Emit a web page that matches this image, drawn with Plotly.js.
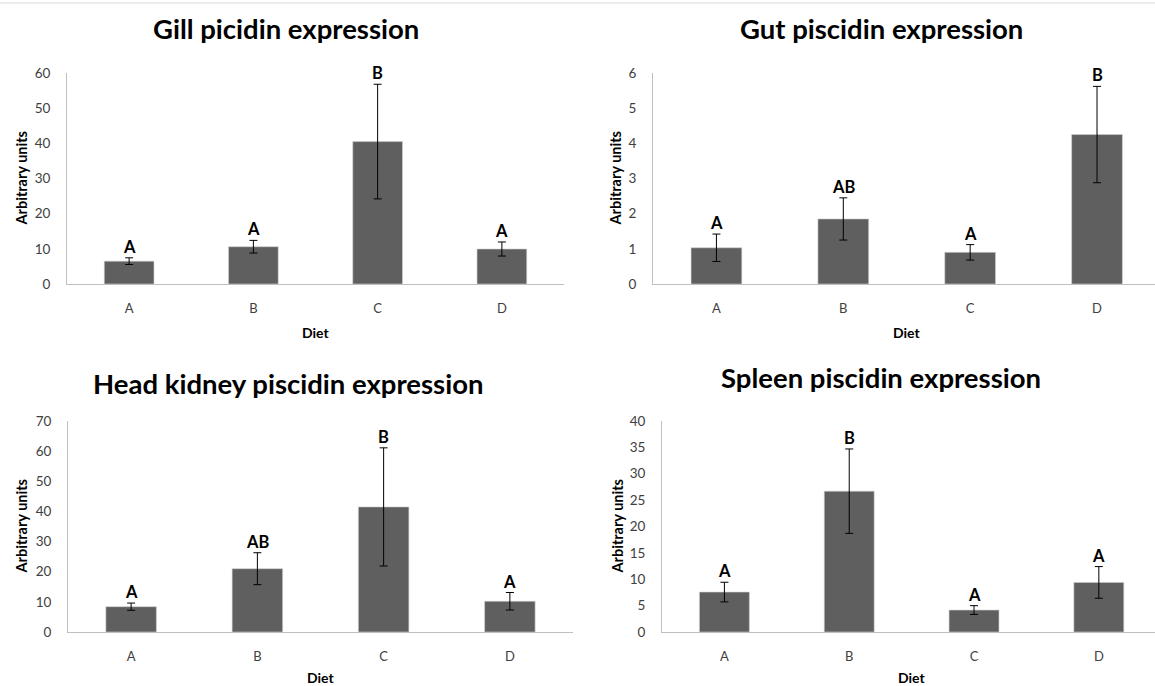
<!DOCTYPE html>
<html>
<head>
<meta charset="utf-8">
<script src="https://cdn.plot.ly/plotly-3.0.1.min.js"></script>
<style>html,body{margin:0;padding:0;background:#fff;overflow:hidden}#chart{width:1155px;height:686px}</style>
</head>
<body>
<div id="chart"></div>
<script>
const categories = ['A', 'B', 'C', 'D'];
const panelTitles = ['Gill picidin expression', 'Gut piscidin expression', 'Head kidney piscidin expression', 'Spleen piscidin expression'];

const gillValues = [6.5, 10.6, 40.5, 9.95];
const gillErrors = [0.95, 1.8, 16.3, 2.0];
const gillLetters = ['A', 'A', 'B', 'A'];

const gutValues = [1.03, 1.85, 0.90, 4.25];
const gutErrors = [0.39, 0.6, 0.22, 1.37];
const gutLetters = ['A', 'AB', 'A', 'B'];

const kidneyValues = [8.4, 21.0, 41.5, 10.2];
const kidneyErrors = [1.2, 5.3, 19.6, 2.9];
const kidneyLetters = ['A', 'AB', 'B', 'A'];

const spleenValues = [7.57, 26.7, 4.16, 9.4];
const spleenErrors = [1.86, 8.0, 0.83, 3.0];
const spleenLetters = ['A', 'B', 'A', 'A'];

const yMax = [60, 6, 70, 40];
const yStep = [10, 1, 10, 5];
const xAxisTitle = 'Diet';
const yAxisTitle = 'Arbitrary units';

const W = 1155, H = 686;
const FONT = 'Lato, "Open Sans", sans-serif';

// panel geometry (pixels)
const panels = [
  {x0: 67, x1: 564, yTop: 73, yBot: 284, xEnd: 3.5, titleX: 286, titleY: 28, ytX: 21, dietY: 332},
  {x0: 653, x1: 1155, yTop: 73, yBot: 284, xEnd: 3.457, titleX: 881, titleY: 28, ytX: 615, dietY: 332},
  {x0: 68, x1: 573, yTop: 421, yBot: 632, xEnd: 3.5, titleX: 288, titleY: 383, ytX: 21, dietY: 677},
  {x0: 662, x1: 1155, yTop: 421, yBot: 632, xEnd: 3.45, titleX: 881, titleY: 377, ytX: 617, dietY: 677}
];

const values = [gillValues, gutValues, kidneyValues, spleenValues];
const errors = [gillErrors, gutErrors, kidneyErrors, spleenErrors];
const letters = [gillLetters, gutLetters, kidneyLetters, spleenLetters];

const data = [];
const annotations = [];
const layout = {
  width: W, height: H,
  margin: {l: 0, r: 0, t: 0, b: 0},
  paper_bgcolor: '#ffffff',
  plot_bgcolor: 'rgba(0,0,0,0)',
  showlegend: false,
  font: {family: FONT, color: '#595959'},
  bargap: 0.6,
  shapes: [{type: 'line', xref: 'paper', yref: 'paper', x0: 0, x1: 1, y0: 1 - 3 / H, y1: 1 - 3 / H, line: {color: '#d9d9d9', width: 1}}]
};

panels.forEach((p, i) => {
  const n = i + 1;
  const xa = n === 1 ? 'x' : 'x' + n;
  const ya = n === 1 ? 'y' : 'y' + n;
  data.push({
    type: 'bar',
    x: categories,
    y: values[i],
    xaxis: xa, yaxis: ya,
    marker: {color: '#5f5f5f', line: {color: '#d0d0d0', width: 0.6}},
    error_y: {type: 'data', array: errors[i], visible: true, color: '#000000', thickness: 1, width: 4},
    hoverinfo: 'x+y'
  });
  const xKey = n === 1 ? 'xaxis' : 'xaxis' + n;
  const yKey = n === 1 ? 'yaxis' : 'yaxis' + n;
  layout[xKey] = {
    domain: [p.x0 / W, p.x1 / W],
    anchor: ya,
    type: 'category',
    range: [-0.5, p.xEnd],
    showline: true, linecolor: '#bfbfbf', linewidth: 1,
    showgrid: false, zeroline: false,
    ticks: 'outside', ticklen: 12, tickcolor: 'rgba(0,0,0,0)',
    tickfont: {family: FONT, size: 13, color: '#404040'},
    fixedrange: true
  };
  layout[yKey] = {
    domain: [1 - p.yBot / H, 1 - p.yTop / H],
    anchor: xa,
    range: [0, yMax[i]],
    dtick: yStep[i], tick0: 0,
    showline: true, linecolor: '#bfbfbf', linewidth: 1,
    showgrid: false, zeroline: false,
    ticks: 'outside', ticklen: 13, tickcolor: 'rgba(0,0,0,0)',
    tickfont: {family: FONT, size: 13.5, color: '#404040'},
    fixedrange: true
  };
  // panel title
  annotations.push({
    xref: 'paper', yref: 'paper', x: p.titleX / W, y: 1 - p.titleY / H,
    xanchor: 'center', yanchor: 'middle', showarrow: false,
    text: '<b>' + panelTitles[i] + '</b>',
    font: {family: FONT, size: 27.5, color: '#000000'}
  });
  // y axis title
  annotations.push({
    xref: 'paper', yref: 'paper', x: p.ytX / W, y: 1 - ((p.yTop + p.yBot) / 2) / H,
    xanchor: 'center', yanchor: 'middle', showarrow: false, textangle: -90,
    text: '<b>' + yAxisTitle + '</b>',
    font: {family: FONT, size: 14.5, color: '#000000'}
  });
  // x axis title
  const xc = (p.x0 + p.x0 + (p.x1 - p.x0) * 4 / (p.xEnd + 0.5)) / 2;
  annotations.push({
    xref: 'paper', yref: 'paper', x: xc / W, y: 1 - p.dietY / H,
    xanchor: 'center', yanchor: 'middle', showarrow: false,
    text: '<b>' + xAxisTitle + '</b>',
    font: {family: FONT, size: 14, color: '#000000'},
    borderpad: 0
  });
  // significance letters
  categories.forEach((c, k) => {
    annotations.push({
      xref: xa, yref: ya, x: c, y: values[i][k] + errors[i][k],
      xanchor: 'center', yanchor: 'bottom', showarrow: false,
      text: '<b>' + letters[i][k] + '</b>',
      font: {family: FONT, size: 16.5, color: '#000000'},
      borderpad: 0
    });
  });
});
layout.annotations = annotations;

Plotly.newPlot('chart', data, layout, {displayModeBar: false, staticPlot: true});
</script>
</body>
</html>
